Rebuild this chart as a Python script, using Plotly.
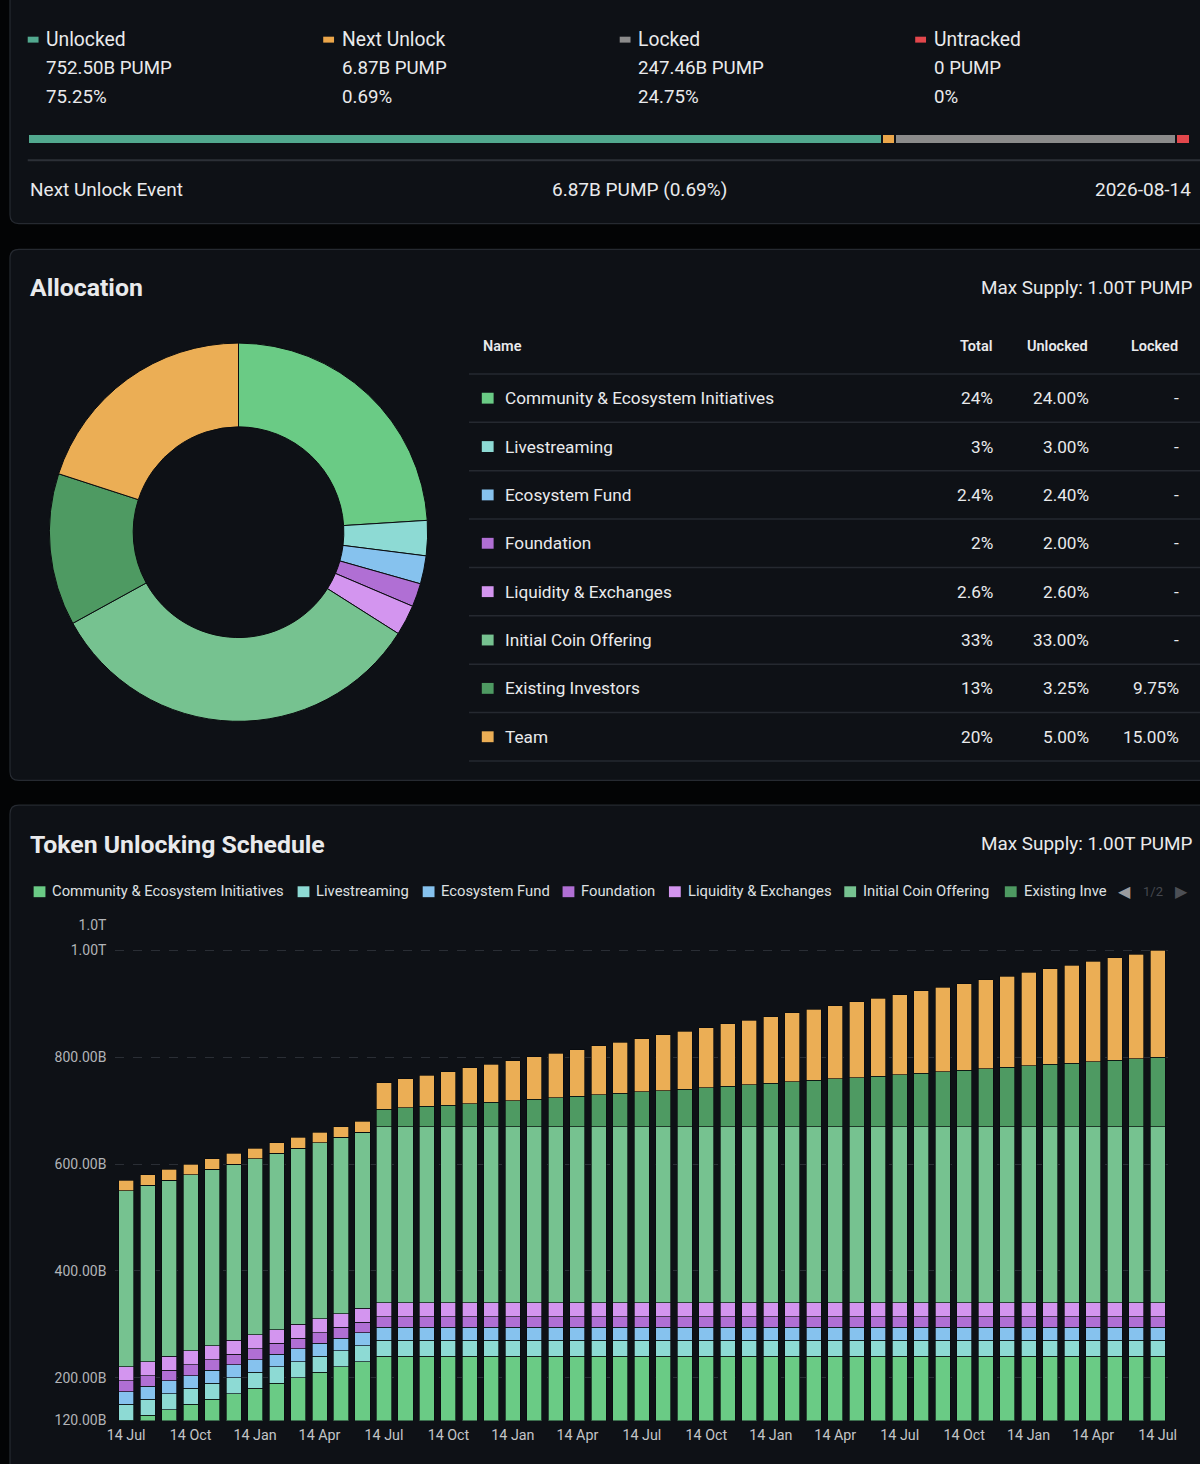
import plotly.graph_objects as go

FW, FH = 1200, 1464
OX, OY = 0, 0
FONT = "Roboto"
BG = "#030405"
PANEL = "#0e1116"
BORDER = "#262a31"
TXT = "#e9eaec"

# ---------------- summary (top panel) ----------------
summary_labels = ["Unlocked", "Next Unlock", "Locked", "Untracked"]
summary_amounts_b = [752.50, 6.87, 247.46, 0]
summary_pcts = [75.25, 0.69, 24.75, 0]
summary_colors = ["#52a98f", "#eba64a", "#8b8b8b", "#e2474c"]
next_unlock_amount_b = 6.87
next_unlock_pct = 0.69
next_unlock_date = "2026-08-14"
max_supply_text = "1.00T PUMP"

# ---------------- allocation ----------------
alloc_names = ["Community & Ecosystem Initiatives", "Livestreaming", "Ecosystem Fund",
               "Foundation", "Liquidity & Exchanges", "Initial Coin Offering",
               "Existing Investors", "Team"]
alloc_colors = ["#6acb85", "#8ddad4", "#86c2ee", "#b06fd4", "#d395ef",
                "#76c290", "#4e9a62", "#ebae55"]
alloc_total_pct = [24, 3, 2.4, 2, 2.6, 33, 13, 20]
alloc_unlocked_pct = [24.00, 3.00, 2.40, 2.00, 2.60, 33.00, 3.25, 5.00]
alloc_locked_pct = [0, 0, 0, 0, 0, 0, 9.75, 15.00]

# ---------------- unlocking schedule (billions of PUMP) ----------------
months = ["2025-07-14", "2025-08-14", "2025-09-14", "2025-10-14", "2025-11-14", "2025-12-14",
          "2026-01-14", "2026-02-14", "2026-03-14", "2026-04-14", "2026-05-14", "2026-06-14",
          "2026-07-14", "2026-08-14", "2026-09-14", "2026-10-14", "2026-11-14", "2026-12-14",
          "2027-01-14", "2027-02-14", "2027-03-14", "2027-04-14", "2027-05-14", "2027-06-14",
          "2027-07-14", "2027-08-14", "2027-09-14", "2027-10-14", "2027-11-14", "2027-12-14",
          "2028-01-14", "2028-02-14", "2028-03-14", "2028-04-14", "2028-05-14", "2028-06-14",
          "2028-07-14", "2028-08-14", "2028-09-14", "2028-10-14", "2028-11-14", "2028-12-14",
          "2029-01-14", "2029-02-14", "2029-03-14", "2029-04-14", "2029-05-14", "2029-06-14",
          "2029-07-14"]
tick_months = ["2025-07-14", "2025-10-14", "2026-01-14", "2026-04-14", "2026-07-14",
               "2026-10-14", "2027-01-14", "2027-04-14", "2027-07-14", "2027-10-14",
               "2028-01-14", "2028-04-14", "2028-07-14", "2028-10-14", "2029-01-14",
               "2029-04-14", "2029-07-14"]
tick_labels = ["14 Jul", "14 Oct", "14 Jan", "14 Apr", "14 Jul", "14 Oct", "14 Jan", "14 Apr",
               "14 Jul", "14 Oct", "14 Jan", "14 Apr", "14 Jul", "14 Oct", "14 Jan", "14 Apr",
               "14 Jul"]
y_tickvals = [120, 200, 400, 600, 800, 1000, 1048]
y_ticktext = ["120.00B", "200.00B", "400.00B", "600.00B", "800.00B", "1.00T", "1.0T"]

community = [120, 130, 140, 150, 160, 170, 180, 190, 200, 210, 220, 230,
             240, 240, 240, 240, 240, 240, 240, 240, 240, 240,
             240, 240, 240, 240, 240, 240, 240, 240, 240, 240,
             240, 240, 240, 240, 240, 240, 240, 240, 240, 240,
             240, 240, 240, 240, 240, 240, 240]
livestreaming = [30, 30, 30, 30, 30, 30, 30, 30, 30, 30, 30, 30, 30, 30, 30, 30, 30,
                 30, 30, 30, 30, 30, 30, 30, 30, 30, 30, 30, 30, 30, 30, 30, 30,
                 30, 30, 30, 30, 30, 30, 30, 30, 30, 30, 30, 30, 30, 30, 30, 30]
ecosystem_fund = [24, 24, 24, 24, 24, 24, 24, 24, 24, 24, 24, 24, 24, 24, 24, 24, 24,
                  24, 24, 24, 24, 24, 24, 24, 24, 24, 24, 24, 24, 24, 24, 24, 24,
                  24, 24, 24, 24, 24, 24, 24, 24, 24, 24, 24, 24, 24, 24, 24, 24]
foundation = [20, 20, 20, 20, 20, 20, 20, 20, 20, 20, 20, 20, 20, 20, 20, 20, 20,
              20, 20, 20, 20, 20, 20, 20, 20, 20, 20, 20, 20, 20, 20, 20, 20,
              20, 20, 20, 20, 20, 20, 20, 20, 20, 20, 20, 20, 20, 20, 20, 20]
liquidity = [26, 26, 26, 26, 26, 26, 26, 26, 26, 26, 26, 26, 26, 26, 26, 26, 26,
             26, 26, 26, 26, 26, 26, 26, 26, 26, 26, 26, 26, 26, 26, 26, 26,
             26, 26, 26, 26, 26, 26, 26, 26, 26, 26, 26, 26, 26, 26, 26, 26]
ico = [330, 330, 330, 330, 330, 330, 330, 330, 330, 330, 330, 330, 330, 330, 330, 330, 330,
       330, 330, 330, 330, 330, 330, 330, 330, 330, 330, 330, 330, 330, 330, 330, 330,
       330, 330, 330, 330, 330, 330, 330, 330, 330, 330, 330, 330, 330, 330, 330, 330]
existing_investors = [0, 0, 0, 0, 0, 0, 0, 0, 0, 0, 0, 0,
                      32.5, 35.2, 37.9, 40.6, 43.3, 46.0, 48.8, 51.5, 54.2, 56.9,
                      59.6, 62.3, 65.0, 67.7, 70.4, 73.1, 75.8, 78.5, 81.3, 84.0,
                      86.7, 89.4, 92.1, 94.8, 97.5, 100.2, 102.9, 105.6, 108.3, 111.0,
                      113.8, 116.5, 119.2, 121.9, 124.6, 127.3, 130.0]
team = [20, 20, 20, 20, 20, 20, 20, 20, 20, 20, 20, 20,
        50.0, 54.2, 58.3, 62.5, 66.7, 70.8, 75.0, 79.2, 83.3, 87.5,
        91.7, 95.8, 100.0, 104.2, 108.3, 112.5, 116.7, 120.8, 125.0, 129.2,
        133.3, 137.5, 141.7, 145.8, 150.0, 154.2, 158.3, 162.5, 166.7, 170.8,
        175.0, 179.2, 183.3, 187.5, 191.7, 195.8, 200.0]
schedule_series = [community, livestreaming, ecosystem_fund, foundation, liquidity,
                   ico, existing_investors, team]
legend_visible_names = ["Community & Ecosystem Initiatives", "Livestreaming", "Ecosystem Fund",
                        "Foundation", "Liquidity & Exchanges", "Initial Coin Offering",
                        "Existing Inve"]


def X(px):
    return (px - OX) / FW


def Y(py):
    return 1 - (py - OY) / FH


annotations = []
shapes = []


def text(x, y, s, size=16, color=TXT, anchor="left", weight=400, family=FONT):
    annotations.append(dict(x=X(x), y=Y(y), xref="paper", yref="paper", text=s,
                            showarrow=False, xanchor=anchor, yanchor="middle",
                            font=dict(family=family, size=size, color=color, weight=weight)))


def rect(x0, y0, x1, y1, color):
    shapes.append(dict(type="rect", xref="paper", yref="paper", x0=X(x0), x1=X(x1),
                       y0=Y(y1), y1=Y(y0), fillcolor=color, line=dict(width=0), layer="above"))


def hline(x0, x1, y, color, width=1):
    shapes.append(dict(type="line", xref="paper", yref="paper", x0=X(x0), x1=X(x1),
                       y0=Y(y), y1=Y(y), line=dict(color=color, width=width), layer="below"))


def panel(x0, y0, x1, y1, r=9):
    pts = [("M", x0 + r, y0), ("L", x1 - r, y0), ("Q", x1, y0, x1, y0 + r), ("L", x1, y1 - r),
           ("Q", x1, y1, x1 - r, y1), ("L", x0 + r, y1), ("Q", x0, y1, x0, y1 - r),
           ("L", x0, y0 + r), ("Q", x0, y0, x0 + r, y0)]
    d = ""
    for p in pts:
        coords = p[1:]
        parts = [f"{X(coords[i]):.5f},{Y(coords[i + 1]):.5f}" for i in range(0, len(coords), 2)]
        d += p[0] + " " + " ".join(parts) + " "
    d += "Z"
    shapes.append(dict(type="path", xref="paper", yref="paper", path=d, fillcolor=PANEL,
                       line=dict(color=BORDER, width=1.2), layer="below"))


# panels
panel(1, -30, 1230, 218)
panel(1, 244, 1230, 781)
panel(1, 806, 1230, 1500)

fig = go.Figure()

# ---------------- top panel ----------------
col_x = [19, 319, 620, 920]
for i, lab in enumerate(summary_labels):
    cx = col_x[i]
    rect(cx, 29, cx + 11, 35, summary_colors[i])
    text(cx + 17, 32, lab, size=19.3)
    amt = summary_amounts_b[i]
    amt_s = "0 PUMP" if amt == 0 else f"{amt:.2f}B PUMP"
    text(cx + 17, 61, amt_s, size=18.7)
    text(cx + 17, 90, f"{summary_pcts[i]:g}%", size=18.7)

# progress bar (horizontal stacked bar); tiny segments get a minimum visible width
MIN_SEG = 12
for lab, val, col in zip(summary_labels, summary_amounts_b, summary_colors):
    fig.add_trace(go.Bar(x=[max(val, MIN_SEG)], y=[0], orientation="h", width=1,
                         marker=dict(color=col, line=dict(color=PANEL, width=2)),
                         xaxis="x2", yaxis="y2", hoverinfo="skip", showlegend=False))

hline(19, 1230, 154, "#2c3037", 2)
text(19, 184, "Next Unlock Event", size=19)
text(640, 184, f"{next_unlock_amount_b:.2f}B PUMP ({next_unlock_pct:.2f}%)", size=19, anchor="center")
text(1100, 184, next_unlock_date, size=19)

# ---------------- allocation panel ----------------
text(19, 283, "Allocation", size=24.8, weight=700)
text(985, 283, "Max Supply: " + max_supply_text, size=18.9)

fig.add_trace(go.Pie(values=alloc_total_pct, labels=alloc_names, sort=False,
                     direction="clockwise", rotation=0, hole=0.557,
                     marker=dict(colors=alloc_colors, line=dict(color="#0a0c0f", width=1)),
                     textinfo="none", hoverinfo="skip", showlegend=False,
                     domain=dict(x=[X(41), X(425)], y=[Y(722), Y(338)])))

# table
text(479, 342, "Name", size=14.5, weight=600)
text(1000, 342, "Total", size=14.5, weight=600, anchor="right")
text(1097, 342, "Unlocked", size=14.5, weight=600, anchor="right")
text(1189, 342, "Locked", size=14.5, weight=600, anchor="right")
row_h = 48.9
for i in range(len(alloc_names) + 1):
    hline(467, 1230, 370 + row_h * i, "#252930", 1.5)
for i, name in enumerate(alloc_names):
    cy = 394.5 + row_h * i
    rect(480, cy - 5.5, 492, cy + 5.5, alloc_colors[i])
    text(502, cy, name, size=17.2)
    text(1001, cy, f"{alloc_total_pct[i]:g}%", size=17.2, anchor="right")
    text(1098, cy, f"{alloc_unlocked_pct[i]:.2f}%", size=17.2, anchor="right")
    lk = alloc_locked_pct[i]
    text(1190, cy, "-" if lk == 0 else f"{lk:.2f}%", size=17.2, anchor="right")

# ---------------- schedule panel ----------------
text(19, 846, "Token Unlocking Schedule", size=24.8, weight=700)
text(985, 845, "Max Supply: " + max_supply_text, size=18.9)

leg_x = [25, 293, 420, 562, 670, 848, 1011]
for i, nm in enumerate(legend_visible_names):
    rect(leg_x[i], 888, leg_x[i] + 12, 899, alloc_colors[i])
    text(leg_x[i] + 17, 893, nm, size=14.8, color="#dfe0e2")
text(1132, 893, "◀", size=16, color="#9a9c9f", anchor="center", family="DejaVu Sans")
text(1161, 893, "1/2", size=13, color="#45484e", anchor="center")
text(1190, 893, "▶", size=16, color="#4c4f55", anchor="center", family="DejaVu Sans")

for name, vals, col in zip(alloc_names, schedule_series, alloc_colors):
    fig.add_trace(go.Bar(x=months, y=vals, name=name,
                         marker=dict(color=col, line=dict(color="rgba(8,10,13,0.85)", width=0.8)),
                         xaxis="x", yaxis="y", hoverinfo="skip", showlegend=False))

fig.update_layout(
    width=FW, height=FH, margin=dict(l=0, r=0, t=0, b=0),
    paper_bgcolor=BG, plot_bgcolor="rgba(0,0,0,0)",
    barmode="stack", bargap=0.30, showlegend=False,
    font=dict(family=FONT, color=TXT),
    xaxis=dict(domain=[X(108), X(1177)], type="category", range=[-0.5, len(months) - 0.5],
               tickvals=tick_months, ticktext=tick_labels, showgrid=False, zeroline=False,
               showline=False, ticks="", tickfont=dict(family=FONT, size=14.3, color="#c3c5c8"),
               ticklabelstandoff=4, anchor="y", fixedrange=True),
    yaxis=dict(domain=[Y(1428), Y(927)], range=[120, 1048], tickvals=y_tickvals,
               ticktext=y_ticktext, showgrid=True, gridcolor="#2a2e35", griddash="dash",
               gridwidth=1, zeroline=False, showline=False, ticks="",
               tickfont=dict(family=FONT, size=14, color="#b2b4b8"),
               ticklabelstandoff=8, anchor="x", fixedrange=True),
    xaxis2=dict(domain=[X(19), 1], range=[0, (FW + OX - 19) / 1.152], visible=False,
                anchor="y2", fixedrange=True),
    yaxis2=dict(domain=[Y(138), Y(127)], range=[-0.5, 0.5], visible=False, anchor="x2",
                fixedrange=True),
    annotations=annotations, shapes=shapes,
)

fig.write_html("out.html", config={"displayModeBar": False},
               post_script="document.documentElement.style.margin='0';"
                           "document.body.style.margin='0';"
                           "document.body.style.background='#030405';"
                           "document.documentElement.style.background='#030405';"
                           "document.documentElement.style.overflow='hidden';"
                           "document.body.style.overflow='hidden';")
